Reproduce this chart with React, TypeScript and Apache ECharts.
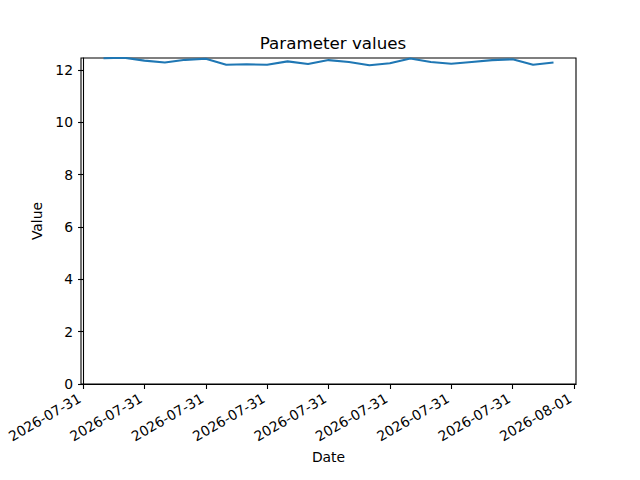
import React, { useEffect, useRef } from "react";
import * as echarts from "echarts";

const hours = [1, 2, 3, 4, 5, 6, 7, 8, 9, 10, 11, 12, 13, 14, 15, 16, 17, 18, 19, 20, 21, 22, 23];
const values = [12.45, 12.47, 12.36, 12.29, 12.39, 12.43, 12.2, 12.22, 12.2, 12.33, 12.23, 12.38, 12.31, 12.18, 12.26, 12.44, 12.31, 12.24, 12.31, 12.38, 12.41, 12.2, 12.29];
const xTickHours = [0, 3, 6, 9, 12, 15, 18, 21, 24];
const xTickLabels = ["2026-07-31", "2026-07-31", "2026-07-31", "2026-07-31", "2026-07-31", "2026-07-31", "2026-07-31", "2026-07-31", "2026-08-01"];
const yTicks = [0, 2, 4, 6, 8, 10, 12];

const FONT = "DejaVu Sans";

export default function App() {
  const ref = useRef<HTMLDivElement>(null);
  useEffect(() => {
    document.body.style.margin = "0";
    const chart = echarts.init(ref.current!, null, { renderer: "svg" });
    chart.setOption({
      animation: false,
      backgroundColor: "#ffffff",
      title: {
        text: "Parameter values",
        left: 328,
        top: 29,
        textAlign: "center",
        textStyle: { fontFamily: FONT, fontSize: 16.7, fontWeight: "normal", color: "#000" },
      },
      grid: {
        left: 81,
        right: 64,
        top: 58,
        bottom: 96,
        show: true,
        borderColor: "#000",
        borderWidth: 1.1,
        backgroundColor: "transparent",
      },
      xAxis: {
        type: "value",
        min: -0.1,
        max: 24.1,
        name: "Date",
        nameLocation: "middle",
        nameGap: 66,
        nameTextStyle: { fontFamily: FONT, fontSize: 13.9, color: "#000" },
        axisLine: { show: true, onZero: false, lineStyle: { color: "#000", width: 1.1 } },
        axisTick: { show: true, length: 5, customValues: xTickHours, lineStyle: { color: "#000", width: 1.1 } },
        axisLabel: {
          customValues: xTickHours,
          rotate: 30,
          margin: 11,
          padding: [0, 4, 0, 0],
          fontFamily: FONT,
          fontSize: 13.9,
          color: "#000",
          formatter: (v: number) => {
            const i = xTickHours.indexOf(Math.round(v));
            return i >= 0 ? xTickLabels[i] : "";
          },
        },
        splitLine: { show: false },
      },
      yAxis: {
        type: "value",
        min: 0,
        max: 12.46,
        name: "Value",
        nameLocation: "middle",
        nameGap: 36,
        nameTextStyle: { fontFamily: FONT, fontSize: 13.9, color: "#000" },
        axisLine: { show: true, lineStyle: { color: "#000", width: 1.1 } },
        axisTick: { show: true, length: 5, customValues: yTicks, lineStyle: { color: "#000", width: 1.1 } },
        axisLabel: { customValues: yTicks, margin: 8, fontFamily: FONT, fontSize: 13.9, color: "#000" },
        splitLine: { show: false },
      },
      series: [
        {
          type: "line",
          data: hours.map((h, i) => [h, values[i]]),
          showSymbol: false,
          symbol: "none",
          clip: true,
          lineStyle: { color: "#1f77b4", width: 2.1 },
        },
      ],
    });
    return () => chart.dispose();
  }, []);
  return <div ref={ref} style={{ width: 640, height: 480 }} />;
}
